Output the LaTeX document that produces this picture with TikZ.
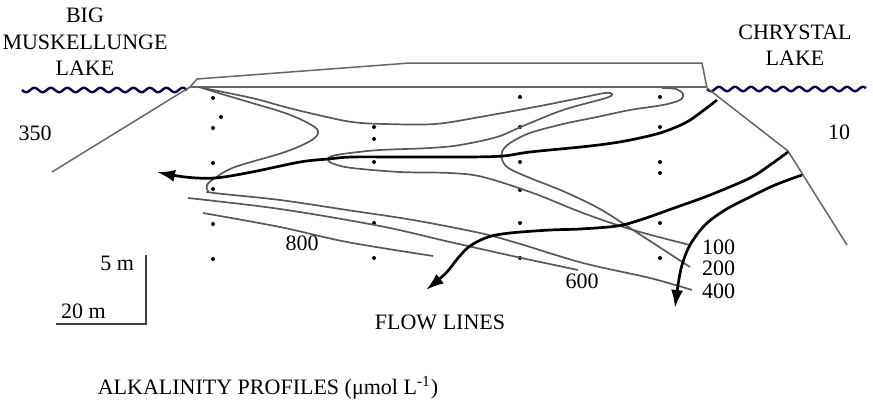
\documentclass[tikz,border=0pt]{standalone}
\usepackage{fontspec}
\setmainfont{Liberation Serif}
\usetikzlibrary{arrows.meta}

\begin{document}
\begin{tikzpicture}[x=0.5pt,y=-0.5pt,
  every node/.style={font=\fontsize{11}{13.2}\selectfont},
  ground/.style={draw=black!60,line width=0.75pt},
  contour/.style={draw=black!65,line width=0.85pt},
  flowline/.style={draw=black,line width=1.35pt,-{Latex[length=9pt,width=6pt]}},
  water/.style={draw=blue!30!black,line width=1.2pt},
  sample/.style={fill=black}]
\useasboundingbox (0,0) rectangle (873,402);

% Lakes
\draw[water] plot[domain=22:187,samples=140] (\x,{90+2.2*sin(21.82*(\x-22))});
\draw[water] plot[domain=707:866,samples=140] (\x,{89+2.2*sin(22.5*(\x-707))});
\node[align=center] (bigLake) at (85,42) {BIG\\MUSKELLUNGE\\LAKE};
\node[align=center] (crystalLake) at (795,45) {CHRYSTAL\\LAKE};
\node (alkBig) at (35,133) {350};
\node (alkCrystal) at (839,132) {10};

% Ground surface and slopes
\draw[ground] (190,87) -- (197,79) -- (410,63) -- (702,63) -- (707,88);
\draw[ground] (190,87) -- (707,87);
\draw[ground] (190,87) -- (52,172);
\draw[ground] (707,88) -- (788,151) -- (847,245);

% Sampling points
\foreach \y in {98,128,163,189,224,259} \fill[sample] (213,\y) circle (1pt);
\fill[sample] (221,117) circle (1pt);
\foreach \y in {127,139,162,223,258} \fill[sample] (374,\y) circle (1pt);
\foreach \y in {97,127,162,190,223,258} \fill[sample] (520,\y) circle (1pt);
\foreach \y in {97,127,162,173,223,258} \fill[sample] (660,\y) circle (1pt);

% Alkalinity contours
\draw[contour] plot[smooth,tension=0.55] coordinates {(198,87) (252,98) (285,107) (318,115) (352,122) (385,124) (435,124)
  (480,117) (540,106) (580,98) (605,93) (612,94) (606,98) (563,110) (523,126) (497,137) (460,145) (430,148)
  (380,150) (350,153) (332,156) (328,160) (334,164) (352,168) (400,172) (450,173) (483,177) (533,193)
  (583,213) (633,230) (690,245)};
\draw[contour] plot[smooth,tension=0.55] coordinates {(662,88) (676,89) (683,94) (680,100) (663,105) (630,110)
  (597,117) (563,124) (530,133) (510,143) (502,152) (503,162) (510,169) (530,178) (565,192) (600,209)
  (633,230) (690,267)};
\draw[contour] plot[smooth,tension=0.55] coordinates {(202,88) (225,95) (252,103) (285,113) (308,123) (318,131)
  (312,140) (285,152) (235,167) (215,178) (207,185) (208,191) (214,193) (280,200) (347,210) (413,220)
  (480,233) (517,243) (583,263) (650,278) (692,290)};
\draw[contour] plot[smooth,tension=0.55] coordinates {(188,198) (280,209) (380,226) (450,242) (517,257) (578,270)};
\draw[contour] plot[smooth,tension=0.55] coordinates {(203,213) (280,227) (347,242) (433,256)};
\node (iso800) at (302,243) {800};
\node (iso600) at (582,281) {600};
\node[anchor=west] (iso100) at (695,247) {100};
\node[anchor=west] (iso200) at (695,268) {200};
\node[anchor=west] (iso400) at (695,291) {400};

% Flow lines
\draw[flowline] plot[smooth,tension=0.55] coordinates {(717,100) (700,113) (685,123) (660,133) (625,141)
  (590,146) (530,152) (503,156) (467,157) (400,157) (352,157) (328,159) (300,162) (252,172) (215,178)
  (185,177) (157,172)};
\draw[flowline] plot[smooth,tension=0.55] coordinates {(788,152) (770,165) (750,178) (710,195) (677,207)
  (640,220) (617,226) (580,229) (550,230) (510,233) (488,237) (470,246) (458,258) (446,273) (426,290)};
\draw[flowline] plot[smooth,tension=0.55] coordinates {(802,175) (775,185) (750,197) (725,210) (705,225)
  (690,245) (682,265) (678,285) (675,308)};
\node (flowLabel) at (440,322) {FLOW LINES};

% Scale bar
\draw[black!75,line width=1.4pt] (146,255) -- (146,324) -- (56,324);
\node[anchor=east] (scaleV) at (141,263) {5 m};
\node[anchor=west] (scaleH) at (54,311) {20 m};

% Caption
\node (caption) at (268,388) {ALKALINITY PROFILES (μmol L\textsuperscript{-1})};
\end{tikzpicture}
\end{document}
